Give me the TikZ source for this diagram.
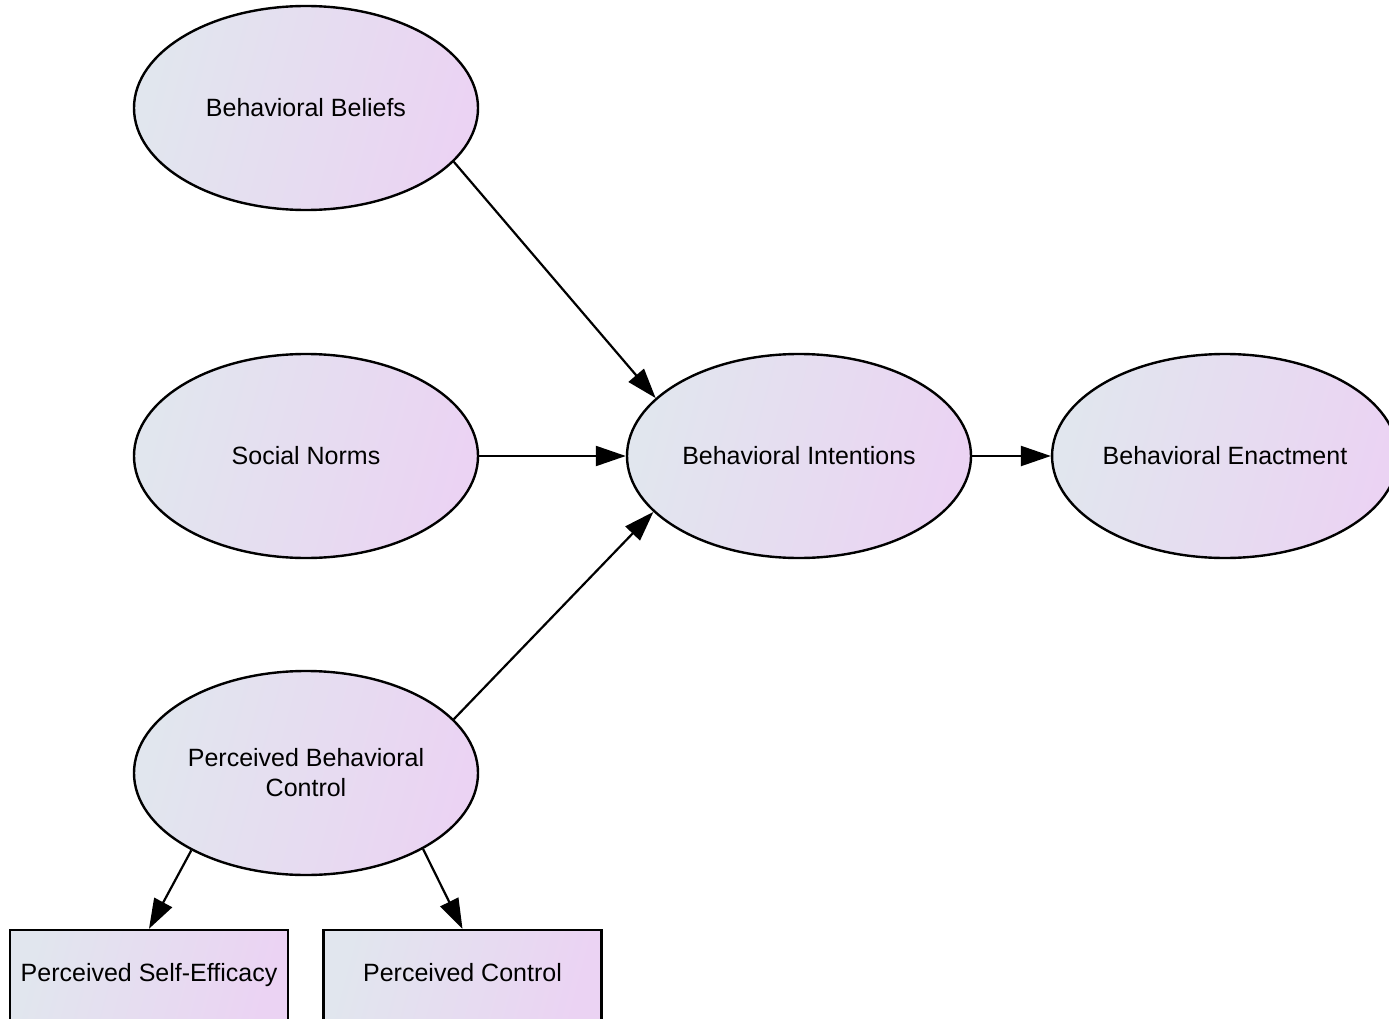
\documentclass[tikz,border=0pt]{standalone}
\usepackage{fontspec}
\setmainfont{Liberation Sans}
\usetikzlibrary{shapes.geometric,arrows.meta}
\definecolor{fillA}{RGB}{225,230,238}
\definecolor{fillB}{RGB}{235,211,243}
\tikzset{
  base/.style={draw=black, line width=2.4pt, left color=fillA, right color=fillB,
    shading angle=75, font=\fontsize{25}{30}\selectfont, align=center, inner sep=0pt},
  oval/.style={base, ellipse, minimum width=344pt, minimum height=204pt},
  boxnode/.style={base, rectangle, minimum width=278pt, minimum height=90pt,
    text height=18pt, text depth=6pt},
  link/.style={line width=2.2pt, -{Triangle[length=30pt,width=20pt]}}
}
\begin{document}
\begin{tikzpicture}[x=1pt,y=-1pt]
\useasboundingbox (0,0) rectangle (1389,1019);
% latent constructs
\node[oval] (bb)  at (306,108) {Behavioral Beliefs};
\node[oval] (sn)  at (306,456) {Social Norms};
\node[oval] (pbc) at (306,773) {Perceived Behavioral\\Control};
\node[oval] (bi)  at (799,456) {Behavioral Intentions};
\node[oval] (be)  at (1225,456) {Behavioral Enactment};
% observed components of control
\node[boxnode] (pse) at (149,975) {Perceived Self-Efficacy};
\node[boxnode] (pc)  at (462.5,975) {Perceived Control};
% paths
\draw[link] (bb.-20.6) -- (bi.158.5);
\draw[link] (sn.east) -- (bi.west);
\draw[link] (pbc.20.6) -- (bi.-159.5);
\draw[link] (bi.east) -- (be.west);
\draw[link] (pbc.-146.4) -- (pse.north);
\draw[link] (pbc.-33.6) -- (pc.north);
\end{tikzpicture}
\end{document}
